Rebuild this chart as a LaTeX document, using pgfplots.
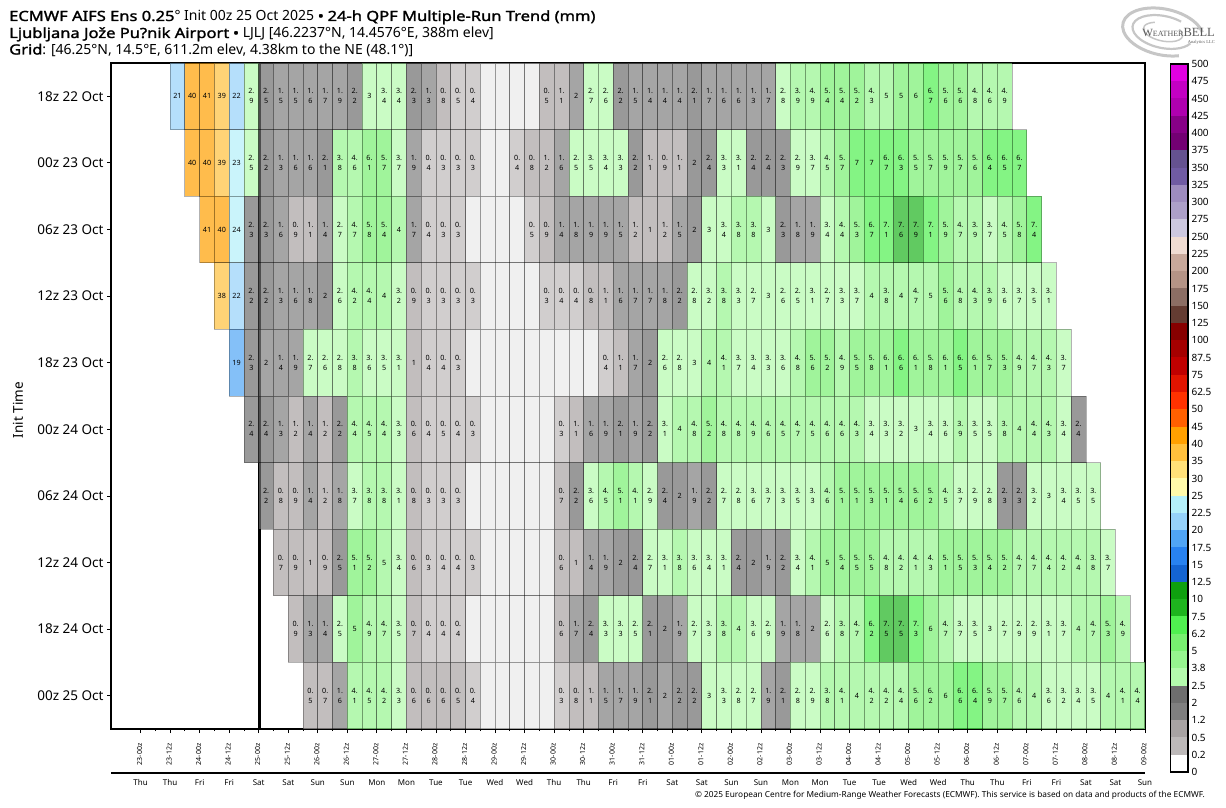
\documentclass[border=0pt]{standalone}
\usepackage{fontspec}
\setmainfont{Noto Sans}
\newfontfamily\boldface[FakeBold=1.6,FakeStretch=1.18]{Noto Sans}
\newfontfamily\logofont{Liberation Serif}
\usepackage{pgfplots}
\usepackage{pgfplotstable}
\pgfplotsset{compat=1.18}
\usetikzlibrary{plotmarks}

% colour bar levels, bottom to top
\definecolor{cb0}{HTML}{FFFFFF}\definecolor{cb1}{HTML}{BDB9B9}\definecolor{cb2}{HTML}{A8A3A3}
\definecolor{cb3}{HTML}{7F7F7F}\definecolor{cb4}{HTML}{6E6E6E}\definecolor{cb5}{HTML}{B4FBAD}
\definecolor{cb6}{HTML}{96F58F}\definecolor{cb7}{HTML}{78F070}\definecolor{cb8}{HTML}{50F050}
\definecolor{cb9}{HTML}{1EB41E}\definecolor{cb10}{HTML}{0FA00F}\definecolor{cb11}{HTML}{1464D2}
\definecolor{cb12}{HTML}{2882F0}\definecolor{cb13}{HTML}{50A5F5}\definecolor{cb14}{HTML}{96D2FA}
\definecolor{cb15}{HTML}{B4F0FA}\definecolor{cb16}{HTML}{FFFAAA}\definecolor{cb17}{HTML}{FFE078}
\definecolor{cb18}{HTML}{FFC03C}\definecolor{cb19}{HTML}{FFA000}\definecolor{cb20}{HTML}{FF6000}
\definecolor{cb21}{HTML}{FF3200}\definecolor{cb22}{HTML}{E11400}\definecolor{cb23}{HTML}{C00000}
\definecolor{cb24}{HTML}{A50000}\definecolor{cb25}{HTML}{870000}\definecolor{cb26}{HTML}{643C32}
\definecolor{cb27}{HTML}{8C6E64}\definecolor{cb28}{HTML}{B59486}\definecolor{cb29}{HTML}{C8A89A}
\definecolor{cb30}{HTML}{F0DCD2}\definecolor{cb31}{HTML}{CDC8DF}\definecolor{cb32}{HTML}{ADA0C9}
\definecolor{cb33}{HTML}{9E8CBF}\definecolor{cb34}{HTML}{705BA3}\definecolor{cb35}{HTML}{655290}
\definecolor{cb36}{HTML}{730073}\definecolor{cb37}{HTML}{870087}\definecolor{cb38}{HTML}{AF00AF}
\definecolor{cb39}{HTML}{C300C3}\definecolor{cb40}{HTML}{E100E1}
\definecolor{cblank}{HTML}{E9E9E9}

% one table per run, 6-h cells in time order; 0.1 = trace, no text
\pgfplotstableread[row sep=\\]{v\\21\\40\\41\\39\\22\\2.9\\2.49\\1.5\\1.5\\1.6\\1.7\\1.9\\2.2\\3\\3.4\\3.4\\2.3\\1.3\\0.8\\0.49\\0.4\\0.1\\0.1\\0.1\\0.1\\0.5\\1.1\\1.99\\2.7\\2.6\\2.2\\1.5\\1.4\\1.4\\1.4\\2.1\\1.7\\1.6\\1.6\\1.3\\1.7\\2.8\\3.9\\4.9\\5.4\\5.4\\5.2\\4.3\\4.99\\5\\6\\6.7\\5.6\\5.6\\4.8\\4.6\\4.9\\}\rowA
\pgfplotstableread[row sep=\\]{v\\40\\40\\39\\23\\2.5\\2.2\\1.3\\1.6\\1.6\\2.1\\3.8\\4.6\\6.1\\5.7\\3.7\\1.9\\0.4\\0.3\\0.3\\0.3\\0.1\\0.1\\0.4\\0.8\\1.2\\1.6\\2.5\\3.5\\3.4\\3.3\\2.2\\1.1\\0.9\\1.1\\2\\2.4\\3.3\\3.1\\2.4\\2.4\\2.3\\2.9\\3.7\\4.5\\5.7\\7\\7\\6.7\\6.3\\5.5\\5.7\\5.9\\5.7\\5.6\\6.4\\6.5\\6.7\\}\rowB
\pgfplotstableread[row sep=\\]{v\\41\\40\\24\\2.3\\2.3\\1.6\\0.9\\1.1\\1.4\\2.7\\4.7\\5.8\\5.4\\4\\1.7\\0.4\\0.3\\0.3\\0.1\\0.1\\0.1\\0.1\\0.49\\0.9\\1.4\\1.8\\1.9\\1.9\\1.5\\1.2\\1\\1.2\\1.5\\2\\3\\3.4\\3.8\\3.8\\3\\2.3\\1.8\\1.9\\3.4\\4.4\\5.3\\6.7\\7.1\\7.6\\7.9\\7.1\\5.9\\4.7\\3.9\\3.7\\4.5\\5.8\\7.4\\}\rowC
\pgfplotstableread[row sep=\\]{v\\38\\22\\2.2\\2.2\\1.3\\1.6\\1.8\\2\\2.6\\4.2\\4.4\\4\\3.2\\0.9\\0.3\\0.3\\0.3\\0.3\\0.1\\0.1\\0.1\\0.1\\0.3\\0.4\\0.4\\0.8\\1.1\\1.6\\1.7\\1.7\\1.8\\2.2\\2.8\\3.2\\3.8\\3.3\\2.7\\3\\2.6\\2.5\\3.1\\2.7\\3.3\\3.7\\4\\3.8\\4\\4.7\\4.99\\5.6\\4.8\\4.3\\3.9\\3.6\\3.7\\3.5\\3.1\\}\rowD
\pgfplotstableread[row sep=\\]{v\\19\\2.3\\1.99\\1.4\\1.9\\2.7\\2.6\\2.8\\3.8\\3.6\\3.5\\3.1\\1\\0.4\\0.4\\0.3\\0.1\\0.1\\0.1\\0.1\\0.1\\0.1\\0.1\\0.1\\0.1\\0.4\\1.1\\1.7\\2\\2.6\\2.8\\3\\4\\4.1\\3.7\\3.4\\3.3\\3.6\\4.8\\5.6\\5.2\\4.9\\5.5\\5.8\\6.1\\6.6\\6.1\\5.8\\6.1\\6.5\\6.1\\5.7\\5.3\\4.9\\4.7\\4.3\\3.7\\}\rowE
\pgfplotstableread[row sep=\\]{v\\2.4\\2.4\\1.3\\1.2\\1.4\\1.2\\2.2\\4.4\\4.5\\4.4\\3.3\\0.6\\0.4\\0.49\\0.4\\0.3\\0.1\\0.1\\0.1\\0.1\\0.1\\0.3\\1.1\\1.6\\1.9\\2.1\\1.9\\2.2\\3.1\\4\\4.8\\5.2\\4.8\\4.8\\4.9\\4.6\\4.5\\4.7\\4.5\\4.6\\4.6\\4.3\\3.4\\3.3\\3.2\\3\\3.4\\3.6\\3.9\\3.5\\3.5\\3.8\\4\\4.4\\4.3\\3.4\\2.4\\}\rowF
\pgfplotstableread[row sep=\\]{v\\2.2\\0.8\\0.9\\1.4\\1.2\\1.8\\3.7\\3.8\\3.8\\3.1\\0.8\\0.3\\0.3\\0.3\\0.1\\0.1\\0.1\\0.1\\0.1\\0.1\\0.7\\2.2\\3.6\\4.5\\5.1\\4.1\\2.9\\2.4\\2\\1.9\\2.2\\2.7\\2.8\\3.6\\3.7\\3.3\\3.5\\3.3\\4.6\\5.1\\5.1\\5.3\\5.1\\5.4\\5.6\\5.2\\4.5\\3.7\\2.9\\2.8\\2.3\\2.3\\3.2\\3\\3.4\\3.5\\3.5\\}\rowG
\pgfplotstableread[row sep=\\]{v\\0.7\\0.9\\1\\0.9\\2.49\\5.1\\5.2\\4.99\\3.4\\0.6\\0.3\\0.4\\0.4\\0.3\\0.1\\0.1\\0.1\\0.1\\0.1\\0.6\\1\\1.4\\1.9\\2\\2.4\\2.7\\3.1\\3.8\\3.6\\3.4\\3.1\\2.4\\2\\1.9\\2.2\\3.4\\4.1\\5\\5.4\\5.5\\5.5\\4.8\\4.2\\4.1\\4.3\\5.1\\5.5\\5.3\\5.4\\5.2\\4.7\\4.7\\4.4\\4.2\\4.4\\3.8\\3.7\\}\rowH
\pgfplotstableread[row sep=\\]{v\\0.9\\1.3\\1.4\\2.5\\5\\4.9\\4.7\\3.5\\0.7\\0.4\\0.4\\0.4\\0.1\\0.1\\0.1\\0.1\\0.1\\0.1\\0.6\\1.7\\2.4\\3.3\\3.3\\2.5\\2.1\\2\\1.9\\2.7\\3.3\\3.8\\4\\3.6\\2.9\\1.9\\1.8\\1.99\\2.6\\3.8\\4.7\\6.2\\7.5\\7.5\\7.3\\6\\4.7\\3.7\\3.5\\3\\2.7\\2.9\\2.9\\3.1\\3.7\\4\\4.7\\5.3\\4.9\\}\rowI
\pgfplotstableread[row sep=\\]{v\\0.5\\0.7\\1.6\\4.1\\4.5\\4.2\\3.3\\0.6\\0.6\\0.6\\0.5\\0.4\\0.1\\0.1\\0.1\\0.1\\0.1\\0.3\\0.8\\1.1\\1.5\\1.7\\1.9\\2.1\\1.99\\2.2\\2.2\\3\\3.3\\2.8\\2.7\\1.9\\2.1\\2.8\\2.9\\3.8\\4.1\\4\\4.2\\4.2\\4.4\\5.6\\6.19\\6\\6.6\\6.4\\5.9\\5.7\\4.6\\4\\3.6\\3.2\\3.4\\3.5\\4\\4.1\\4.4\\}\rowJ

% fill class of a cell from its value
\newcommand\cellstep[2]{\ifdim\pgfplotspointmeta pt<#1pt\else\def\cellcls{cb#2}\fi}
\newcommand\pickcell{\def\cellcls{cblank}\cellstep{0.2}{1}\cellstep{0.5}{2}\cellstep{1.25}{3}\cellstep{2}{4}\cellstep{2.5}{5}\cellstep{3.8}{6}\cellstep{5}{7}\cellstep{6.2}{8}\cellstep{7.5}{9}\cellstep{10}{10}\cellstep{12.5}{11}\cellstep{15}{12}\cellstep{17.5}{13}\cellstep{20}{14}\cellstep{22.5}{15}\cellstep{25}{16}\cellstep{30}{17}\cellstep{35}{18}\cellstep{40}{19}}
% text of a cell: 2.9 is wrapped after the point, whole numbers stay on one line
\newcommand\celltext{\edef\celltn{\the\numexpr\dimexpr\pgfplotspointmeta pt\relax*10/65536\relax}\edef\cellia{\the\numexpr(\celltn-5)/10\relax}\edef\cellib{\the\numexpr\celltn-10*\cellia\relax}\ifnum\celltn<2 \def\cellout{}\else\ifnum\cellib=0 \edef\cellout{\cellia}\else\edef\cellout{\cellia.\noexpand\\\cellib}\fi\fi\cellout}

\pgfdeclareplotmark{cell}{\pgfpathrectangle{\pgfqpoint{-7.386pt}{-33.3pt}}{\pgfqpoint{14.771pt}{66.6pt}}\pgfusepathqfillstroke}

\pgfplotsset{
  cellfill/.style={scatter,only marks,mark=cell,point meta=explicit symbolic,
    scatter/@pre marker code/.code={\pickcell\scope[draw=black,draw opacity=0.3,fill=\cellcls,fill opacity=0.7,line width=0.8pt]},
    scatter/@post marker code/.code={\endscope}},
  celllabel/.style={only marks,mark=none,point meta=explicit symbolic,
    nodes near coords={\celltext},
    every node near coord/.style={anchor=center,inner sep=0pt,align=center,black,font=\fontsize{7.2}{10}\selectfont}},
}
\newcommand\runrow[3]{%
  \addplot[cellfill] table[x index=0,y index=0,meta=v,x expr=6*(\coordindex+(#2))+3,y expr=#3]{#1};
  \addplot[celllabel] table[x index=0,y index=0,meta=v,x expr=6*(\coordindex+(#2))+3,y expr=#3]{#1};
}

\begin{document}
\begin{tikzpicture}
\useasboundingbox (0,0) rectangle (1226pt,808pt);

% logo
\begin{scope}[gray!45,rotate around={-12:(1163pt,776pt)}]
  \draw[line width=3pt] (1163pt,776pt) ++(20:41pt and 23pt) arc[start angle=20,end angle=300,x radius=41pt,y radius=23pt];
  \draw[line width=2.2pt] (1163pt,776pt) ++(60:31pt and 16pt) arc[start angle=60,end angle=340,x radius=31pt,y radius=16pt];
  \draw[line width=1.5pt] (1163pt,776pt) ++(120:20pt and 9pt) arc[start angle=120,end angle=400,x radius=20pt,y radius=9pt];
\end{scope}
\node[anchor=base east,inner sep=0pt,text=gray!70!black] at (1215pt,771pt) {\logofont\fontsize{11}{11}\selectfont W\fontsize{8}{8}\selectfont EATHER\fontsize{12.5}{12}\selectfont BELL};
\node[anchor=base east,inner sep=0pt,text=gray!70!black] at (1215pt,764pt) {\logofont\fontsize{4.5}{5}\selectfont Analytics LLC};

% titles
\node[anchor=base west,inner sep=0pt] at (9pt,787pt) {\fontsize{14}{15}\selectfont{\boldface ECMWF AIFS Ens 0.25}° Init 00z 25 Oct 2025 {\boldface •} {\boldface 24-h QPF Multiple-Run Trend (mm)}};
\node[anchor=base west,inner sep=0pt] at (9pt,770pt) {\fontsize{14}{15}\selectfont{\boldface Ljubljana Jože Pu?nik Airport} {\boldface •} LJLJ [46.2237°N, 14.4576°E, 388m elev]};
\node[anchor=base west,inner sep=0pt] at (9pt,753.5pt) {\fontsize{14}{15}\selectfont{\boldface Grid}: [46.25°N, 14.5°E, 611.2m elev, 4.38km to the NE (48.1°)]};
\node[rotate=90,inner sep=0pt] at (18pt,398pt) {\fontsize{13.5}{15}\selectfont Init Time};
\node[anchor=base east,inner sep=0pt] at (1205pt,10.5pt) {\fontsize{8.3}{10}\selectfont © 2025 European Centre for Medium-Range Weather Forecasts (ECMWF). This service is based on data and products of the ECMWF.};

% run trend matrix
\begin{axis}[
  at={(111pt,79pt)},anchor=south west,scale only axis,width=1034pt,height=666pt,
  xmin=-60,xmax=360,ymin=-0.5,ymax=9.5,y dir=reverse,
  axis on top,tick align=outside,xtick pos=bottom,ytick pos=left,
  axis line style={line width=1.1pt},
  major tick length=4pt,minor tick length=2pt,
  tick style={black,line width=0.8pt},
  ytick={0,...,9},
  yticklabels={18z 22 Oct,00z 23 Oct,06z 23 Oct,12z 23 Oct,18z 23 Oct,00z 24 Oct,06z 24 Oct,12z 24 Oct,18z 24 Oct,00z 25 Oct},
  yticklabel style={font=\fontsize{13.5}{15}\selectfont},
  xtick={-48,-36,...,360},minor x tick num=1,
  xticklabels={23-00z,23-12z,24-00z,24-12z,25-00z,25-12z,26-00z,26-12z,27-00z,27-12z,28-00z,28-12z,29-00z,29-12z,30-00z,30-12z,31-00z,31-12z,01-00z,01-12z,02-00z,02-12z,03-00z,03-12z,04-00z,04-12z,05-00z,05-12z,06-00z,06-12z,07-00z,07-12z,08-00z,08-12z,09-00z},
  xticklabel style={rotate=90,anchor=east,font=\fontsize{7}{8}\selectfont,xshift=-7pt,yshift=1pt},
]
\runrow{\rowA}{-6}{0}
\runrow{\rowB}{-5}{1}
\runrow{\rowC}{-4}{2}
\runrow{\rowD}{-3}{3}
\runrow{\rowE}{-2}{4}
\runrow{\rowF}{-1}{5}
\runrow{\rowG}{0}{6}
\runrow{\rowH}{1}{7}
\runrow{\rowI}{2}{8}
\runrow{\rowJ}{3}{9}
\addplot[black,line width=3.2pt] coordinates {(0.4,-0.5)(0.4,9.5)};
\end{axis}

% weekday row under the time axis
\begin{axis}[
  at={(111pt,35pt)},anchor=south west,scale only axis,width=1034pt,height=1pt,
  xmin=-60,xmax=360,ymin=0,ymax=1,
  axis x line*=bottom,axis y line=none,
  axis line style={line width=1.2pt,-},
  xtick={-48,-36,...,360},major tick length=0pt,
  xticklabels={Thu,Thu,Fri,Fri,Sat,Sat,Sun,Sun,Mon,Mon,Tue,Tue,Wed,Wed,Thu,Thu,Fri,Fri,Sat,Sat,Sun,Sun,Mon,Mon,Tue,Tue,Wed,Wed,Thu,Thu,Fri,Fri,Sat,Sat,Sun},
  xticklabel style={font=\fontsize{8}{9}\selectfont,yshift=-3pt},
]
\end{axis}

% colour bar
\begin{axis}[
  at={(1170.5pt,36pt)},anchor=south west,scale only axis,width=17.5pt,height=708pt,
  ybar stacked,bar width=17.5pt,
  xmin=-0.5,xmax=0.5,ymin=0,ymax=41,xtick=\empty,
  ytick={0,...,41},
  yticklabels={0,0.2,0.5,1.2,2,2.5,3.8,5,6.2,7.5,10,12.5,15,17.5,20,22.5,25,30,35,40,45,50,62.5,75,87.5,100,125,150,175,200,225,250,275,300,325,350,375,400,425,450,475,500},
  yticklabel pos=right,major tick length=0pt,
  yticklabel style={font=\fontsize{10}{11}\selectfont,anchor=west},
  axis on top,axis line style={line width=1.2pt},
]
\pgfplotsinvokeforeach{0,...,40}{\addplot[fill=cb#1,draw=cb#1,line width=0.2pt] coordinates {(0,1)};}
\end{axis}
\end{tikzpicture}
\end{document}
